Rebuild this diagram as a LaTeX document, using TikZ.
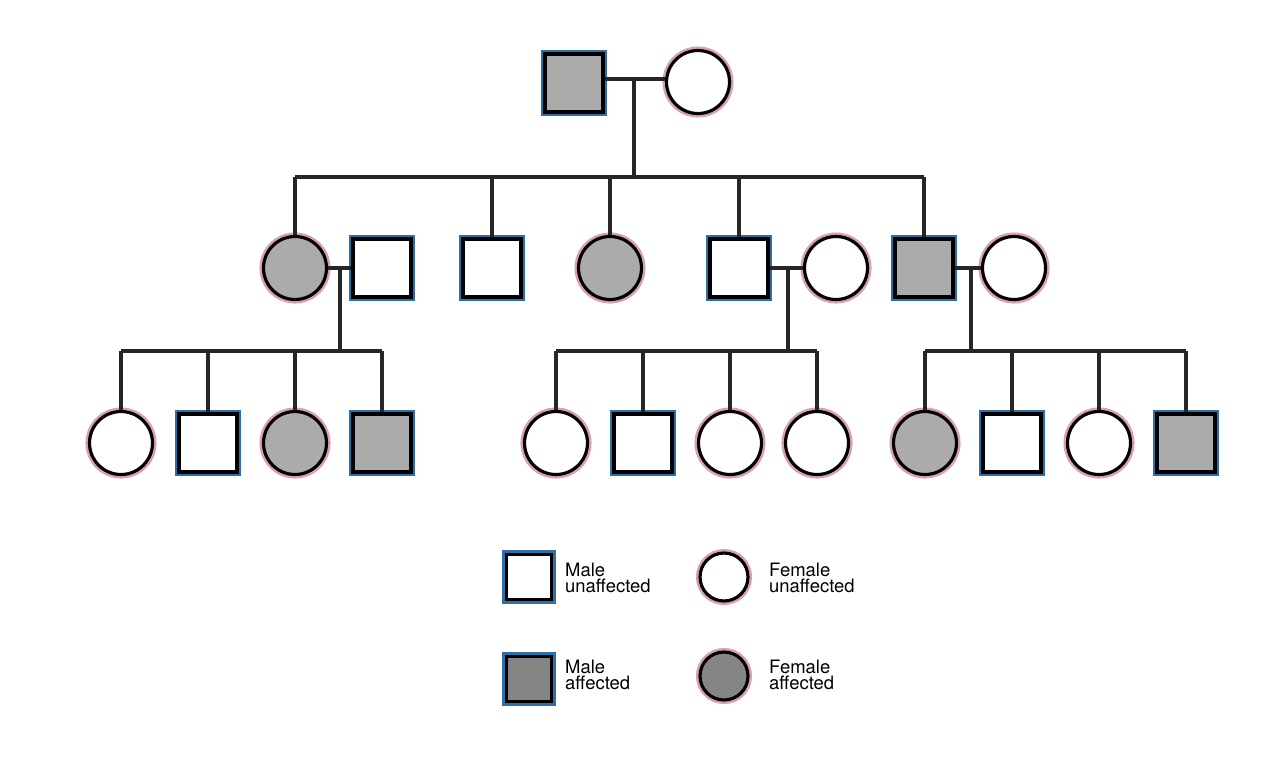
\documentclass[tikz,border=0pt]{standalone}
\usepackage{fontspec}
\setmainfont{TeX Gyre Heros}
\usepackage{xcolor}
\definecolor{maleedge}{HTML}{2F6FA8}
\definecolor{femaleedge}{HTML}{D9A0B4}
\definecolor{pedgray}{HTML}{ABABAB}
\definecolor{keygray}{HTML}{858585}
\tikzset{
    male/.style = {rectangle, draw=black, line width=1.8pt, minimum size=1.16cm, inner sep=0pt, fill=white,
        preaction={draw=maleedge, line width=4.8pt}},
    female/.style = {circle, draw=black, line width=1.8pt, minimum size=1.26cm, inner sep=0pt, fill=white,
        preaction={draw=femaleedge, line width=4.6pt}},
    affected/.style = {fill=pedgray},
    key-male/.style = {male, minimum size=0.9cm},
    key-female/.style = {female, minimum size=0.96cm},
    key-text/.style = {anchor=west, align=left, font=\fontsize{10.5pt}{9.5pt}\selectfont},
    link/.style = {draw=black!85, line width=1.9pt},
}
\begin{document}
\begin{tikzpicture}[x=0.02cm, y=-0.02cm]
\useasboundingbox (0,0) rectangle (1280,762);
% first generation
\node[male, affected] (gp) at (574,83) {};
\node[female] (gm) at (698,82) {};
% second generation
\node[female, affected] (a) at (295,268) {};
\node[male] (asp) at (382,268) {};
\node[male] (b) at (492,268) {};
\node[female, affected] (c) at (610,268) {};
\node[male] (d) at (739,268) {};
\node[female] (dsp) at (836,268) {};
\node[male, affected] (e) at (924,268) {};
\node[female] (esp) at (1014,268) {};
% third generation
\node[female] (a1) at (121,443) {};
\node[male] (a2) at (208,443) {};
\node[female, affected] (a3) at (295,443) {};
\node[male, affected] (a4) at (382,443) {};
\node[female] (d1) at (556,443) {};
\node[male] (d2) at (643,443) {};
\node[female] (d3) at (730,443) {};
\node[female] (d4) at (817,443) {};
\node[female, affected] (e1) at (925,443) {};
\node[male] (e2) at (1012,443) {};
\node[female] (e3) at (1099,443) {};
\node[male, affected] (e4) at (1186,443) {};

% matings and sibships
\coordinate (m0) at (634,79);
\coordinate (s0) at (634,177);
\draw[link] (gp.east |- m0) -- (m0 -| gm.west);
\draw[link] (m0) -- (s0);
\draw[link] (a.north |- s0) -- (e.north |- s0);
\foreach \k in {a,b,c,d,e}
    \draw[link] (\k.north |- s0) -- (\k.north);

\coordinate (m1) at (340,268);
\coordinate (s1) at (340,351);
\draw[link] (a) -- (asp);
\draw[link] (m1) -- (s1);
\draw[link] (a1.north |- s1) -- (a4.north |- s1);
\foreach \k in {a1,a2,a3,a4}
    \draw[link] (\k.north |- s1) -- (\k.north);

\coordinate (m2) at (788,268);
\coordinate (s2) at (788,351);
\draw[link] (d) -- (dsp);
\draw[link] (m2) -- (s2);
\draw[link] (d1.north |- s2) -- (d4.north |- s2);
\foreach \k in {d1,d2,d3,d4}
    \draw[link] (\k.north |- s2) -- (\k.north);

\coordinate (m3) at (971,268);
\coordinate (s3) at (971,351);
\draw[link] (e) -- (esp);
\draw[link] (m3) -- (s3);
\draw[link] (e1.north |- s3) -- (e4.north |- s3);
\foreach \k in {e1,e2,e3,e4}
    \draw[link] (\k.north |- s3) -- (\k.north);

% key
\node[key-male] (km) at (529,577) {};
\node[key-text] (kmt) at (559,578) {Male\\unaffected};
\node[key-female] (kf) at (724,577) {};
\node[key-text] (kft) at (763,578) {Female\\unaffected};
\node[key-male, fill=keygray] (kma) at (529,679) {};
\node[key-text] (kmat) at (559,675) {Male\\affected};
\node[key-female, fill=keygray] (kfa) at (724,676) {};
\node[key-text] (kfat) at (763,675) {Female\\affected};
\end{tikzpicture}
\end{document}
